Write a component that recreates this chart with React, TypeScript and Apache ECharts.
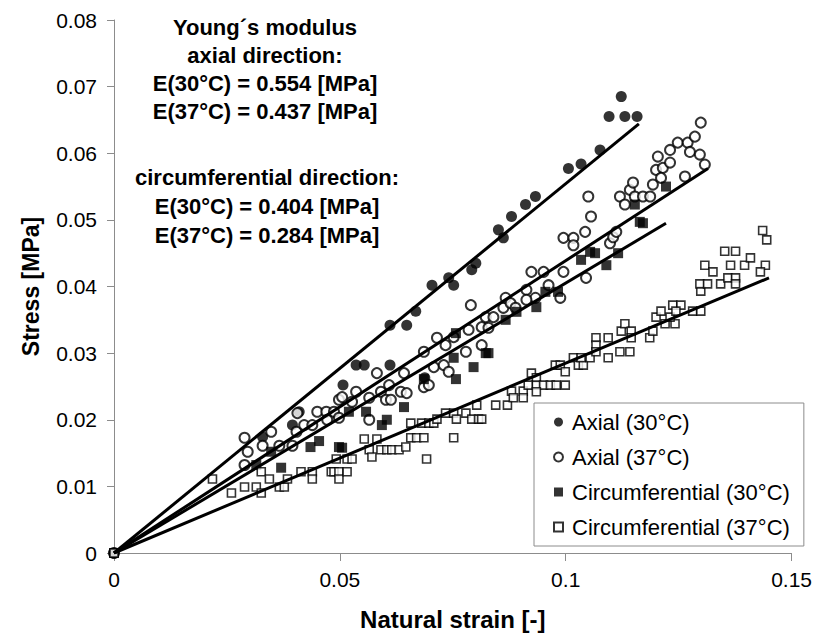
import React, { useEffect, useRef } from "react";
import * as echarts from "echarts";

const FONT = '"Liberation Sans", Arial, sans-serif';

const seriesNames = [
  "Axial (30°C)",
  "Axial (37°C)",
  "Circumferential (30°C)",
  "Circumferential (37°C)",
];

const annotationTop = [
  "Young´s modulus",
  "axial direction:",
  "E(30°C) = 0.554 [MPa]",
  "E(37°C) = 0.437 [MPa]",
];
const annotationBottom = [
  "circumferential direction:",
  "E(30°C) = 0.404 [MPa]",
  "E(37°C) = 0.284 [MPa]",
];

const axial30 = [
  [0, 0], [0.0329, 0.0174], [0.0395, 0.0192], [0.041, 0.0212], [0.0507, 0.0252],
  [0.0536, 0.0282], [0.0554, 0.0282], [0.0611, 0.0282], [0.0611, 0.0342], [0.0648, 0.0342],
  [0.0668, 0.0363], [0.0688, 0.0263], [0.0704, 0.0402], [0.0741, 0.0413], [0.0752, 0.0402],
  [0.0792, 0.0425], [0.0801, 0.0435], [0.0851, 0.0485], [0.0862, 0.0473], [0.088, 0.0505],
  [0.0911, 0.0523], [0.0933, 0.0535], [0.1006, 0.0577], [0.1034, 0.0584], [0.1076, 0.0605],
  [0.1096, 0.0655], [0.1123, 0.0685], [0.1131, 0.0655], [0.1158, 0.0655],
];

const axial37 = [
  [0, 0], [0.0289, 0.0173], [0.0296, 0.0152], [0.0289, 0.0132], [0.0329, 0.0161],
  [0.0348, 0.0182], [0.0366, 0.0161], [0.0395, 0.0161], [0.0406, 0.021], [0.0404, 0.0182],
  [0.0421, 0.0192], [0.0439, 0.0192], [0.045, 0.0212], [0.047, 0.0212], [0.0472, 0.02],
  [0.0487, 0.0212], [0.0498, 0.023], [0.0498, 0.0203], [0.0505, 0.0234], [0.0536, 0.0242],
  [0.0527, 0.0227], [0.0565, 0.02], [0.0565, 0.0233], [0.0582, 0.027], [0.0591, 0.0242],
  [0.0602, 0.023], [0.0613, 0.023], [0.0609, 0.0252], [0.0635, 0.0242], [0.0648, 0.024],
  [0.0642, 0.027], [0.0686, 0.0302], [0.0686, 0.0249], [0.0697, 0.0252], [0.0708, 0.0279],
  [0.0715, 0.0323], [0.073, 0.0282], [0.0741, 0.0272], [0.0734, 0.0312], [0.0752, 0.0324],
  [0.0779, 0.0302], [0.0785, 0.0335], [0.079, 0.0372], [0.0814, 0.0312], [0.0814, 0.0339],
  [0.0823, 0.0354], [0.0829, 0.0338], [0.084, 0.0354], [0.0862, 0.0368], [0.0867, 0.0383],
  [0.0878, 0.0375], [0.0889, 0.0368], [0.0913, 0.0395], [0.0933, 0.0383], [0.0913, 0.038],
  [0.0924, 0.0422], [0.0951, 0.0422], [0.0962, 0.0402], [0.0988, 0.0383], [0.0995, 0.0422],
  [0.0995, 0.0473], [0.1017, 0.0473], [0.1017, 0.0462], [0.1043, 0.0482], [0.1045, 0.0413],
  [0.1056, 0.0505], [0.105, 0.0535], [0.1098, 0.0465], [0.1105, 0.0474], [0.1112, 0.0482],
  [0.112, 0.0535], [0.1131, 0.0523], [0.1142, 0.0545], [0.1149, 0.0556], [0.1153, 0.0535],
  [0.1171, 0.0535], [0.1187, 0.0535], [0.1193, 0.0553], [0.1204, 0.0595], [0.12, 0.0575],
  [0.1215, 0.0578], [0.1211, 0.0563], [0.1231, 0.0586], [0.1231, 0.0605], [0.1248, 0.0616],
  [0.1264, 0.0565], [0.127, 0.0616], [0.1275, 0.0602], [0.1286, 0.0625], [0.1297, 0.0598],
  [0.1308, 0.0583], [0.1299, 0.0646],
];

const circ30 = [
  [0, 0], [0.0315, 0.0132], [0.0348, 0.0152], [0.037, 0.0128], [0.0435, 0.0159],
  [0.0454, 0.0168], [0.0498, 0.0159], [0.0505, 0.0158], [0.052, 0.0212], [0.0558, 0.0212],
  [0.0593, 0.0192], [0.0604, 0.02], [0.0642, 0.0219], [0.0686, 0.0261], [0.0752, 0.0293],
  [0.0757, 0.0261], [0.0757, 0.033], [0.0796, 0.0279], [0.0823, 0.03], [0.0829, 0.03],
  [0.0867, 0.035], [0.0891, 0.0362], [0.0935, 0.0369], [0.0955, 0.0392], [0.0983, 0.0392],
  [0.1034, 0.044], [0.1054, 0.0452], [0.1065, 0.045], [0.109, 0.0432], [0.1116, 0.045],
  [0.1153, 0.0523], [0.1164, 0.0497], [0.1171, 0.0495], [0.1222, 0.055],
];

const circ37 = [
  [0, 0], [0.0218, 0.0111], [0.026, 0.009], [0.0289, 0.0099], [0.0315, 0.0099],
  [0.0326, 0.009], [0.0326, 0.0122], [0.0344, 0.0111], [0.0366, 0.0099], [0.0377, 0.0099],
  [0.0384, 0.0111], [0.0414, 0.0122], [0.0439, 0.0122], [0.0439, 0.0111], [0.0481, 0.0122],
  [0.0487, 0.0122], [0.0498, 0.0122], [0.0498, 0.0111], [0.0492, 0.0141], [0.0516, 0.0122],
  [0.0516, 0.0141], [0.0527, 0.0141], [0.0554, 0.0171], [0.0582, 0.0171], [0.0565, 0.0155],
  [0.0571, 0.0144], [0.0591, 0.0155], [0.0604, 0.0155], [0.0615, 0.0155], [0.0631, 0.0155],
  [0.0646, 0.0159], [0.0657, 0.0173], [0.067, 0.0173], [0.0686, 0.0173], [0.0657, 0.0195],
  [0.0681, 0.0195], [0.0692, 0.0141], [0.0697, 0.0195], [0.0708, 0.0195], [0.0715, 0.0201],
  [0.0734, 0.021], [0.0752, 0.021], [0.0779, 0.021], [0.0752, 0.0173], [0.0758, 0.0201],
  [0.0792, 0.0201], [0.0807, 0.0201], [0.0814, 0.0201], [0.0803, 0.0222], [0.0845, 0.0222],
  [0.0871, 0.0222], [0.088, 0.0243], [0.0906, 0.0243], [0.0884, 0.0233], [0.0906, 0.0233],
  [0.0924, 0.027], [0.0935, 0.0263], [0.0935, 0.0252], [0.0917, 0.0252], [0.0951, 0.0252],
  [0.0966, 0.0252], [0.0979, 0.0252], [0.0999, 0.0252], [0.0935, 0.0242], [0.0977, 0.0282],
  [0.0988, 0.0282], [0.0999, 0.0272], [0.1017, 0.0293], [0.1028, 0.0282], [0.1039, 0.0282],
  [0.1034, 0.0293], [0.1054, 0.0293], [0.1067, 0.0323], [0.1094, 0.0323], [0.1067, 0.0312],
  [0.1067, 0.0302], [0.1094, 0.0293], [0.112, 0.0302], [0.1142, 0.0302], [0.1123, 0.0333],
  [0.1131, 0.0344], [0.1145, 0.0333], [0.1145, 0.0323], [0.1186, 0.0323], [0.1193, 0.0333],
  [0.12, 0.0354], [0.1211, 0.0363], [0.122, 0.0344], [0.1242, 0.0344], [0.1231, 0.0354],
  [0.1237, 0.0372], [0.1255, 0.0372], [0.1244, 0.0363], [0.1281, 0.0363], [0.1299, 0.0363],
  [0.1299, 0.0393], [0.1297, 0.0404], [0.1314, 0.0404], [0.1343, 0.0404], [0.1359, 0.0413],
  [0.1376, 0.0413], [0.1376, 0.0404], [0.1308, 0.0432], [0.1326, 0.0422], [0.1352, 0.0453],
  [0.1376, 0.0453], [0.1365, 0.0432], [0.1396, 0.0432], [0.1409, 0.0443], [0.1442, 0.0432],
  [0.1431, 0.0422], [0.1436, 0.0484], [0.1445, 0.047],
];

// fitted lines: start and end points
const fitAxial30 = [[0, 0], [0.1162, 0.0644]];
const fitAxial37 = [[0, 0], [0.1315, 0.0577]];
const fitCirc30 = [[0, 0], [0.1222, 0.0495]];
const fitCirc37 = [[0, 0], [0.145, 0.0413]];

export default function App() {
  const ref = useRef<HTMLDivElement>(null);

  useEffect(() => {
    if (!ref.current) return;
    const chart = echarts.init(ref.current, null, { renderer: "svg" });
    const axisGray = "#8c8c8c";
    const fitLine = (data: number[][]) => ({
      type: "line",
      data,
      symbol: "none",
      silent: true,
      z: 5,
      lineStyle: { color: "#000", width: 3 },
      legendHoverLink: false,
    });
    chart.setOption({
      animation: false,
      backgroundColor: "#fff",
      textStyle: { fontFamily: FONT },
      grid: { left: 114, right: 21, top: 20, bottom: 86, containLabel: false },
      xAxis: {
        type: "value",
        min: 0,
        max: 0.15,
        interval: 0.05,
        name: "Natural strain [-]",
        nameLocation: "middle",
        nameGap: 54,
        nameTextStyle: { fontFamily: FONT, fontSize: 24, fontWeight: "bold", color: "#000" },
        axisLine: { show: true, lineStyle: { color: axisGray, width: 1 } },
        axisTick: { show: true, length: 8, lineStyle: { color: axisGray } },
        axisLabel: { fontFamily: FONT, fontSize: 21, color: "#000", margin: 16 },
        splitLine: { show: false },
      },
      yAxis: {
        type: "value",
        min: 0,
        max: 0.08,
        interval: 0.01,
        name: "Stress [MPa]",
        nameLocation: "middle",
        nameGap: 72,
        nameTextStyle: { fontFamily: FONT, fontSize: 23, fontWeight: "bold", color: "#000" },
        axisLine: { show: true, lineStyle: { color: axisGray, width: 1 } },
        axisTick: { show: true, length: 7, lineStyle: { color: axisGray } },
        axisLabel: { fontFamily: FONT, fontSize: 21, color: "#000", margin: 17 },
        splitLine: { show: false },
      },
      legend: {
        data: seriesNames,
        orient: "vertical",
        left: 534,
        top: 403,
        itemWidth: 9,
        itemHeight: 9,
        itemGap: 13,
        padding: [8, 14, 8, 19],
        borderColor: "#8c8c8c",
        borderWidth: 1,
        backgroundColor: "#fff",
        textStyle: { fontFamily: FONT, fontSize: 22, color: "#000", padding: [0, 0, 0, 4] },
        selectedMode: false,
        z: 10,
      },
      graphic: [
        {
          type: "text",
          left: 265 - 130,
          top: 13,
          style: {
            text: annotationTop.join("\n"),
            x: 0,
            y: 0,
            width: 260,
            textAlign: "center",
            fontFamily: FONT,
            fontSize: 22,
            fontWeight: "bold",
            lineHeight: 28,
            fill: "#000",
          },
        },
        {
          type: "text",
          left: 265 - 130,
          top: 163,
          style: {
            text: annotationBottom.join("\n"),
            width: 260,
            textAlign: "center",
            fontFamily: FONT,
            fontSize: 22,
            fontWeight: "bold",
            lineHeight: 29,
            fill: "#000",
          },
        },
      ],
      series: [
        {
          name: seriesNames[0],
          type: "scatter",
          data: axial30,
          symbol: "circle",
          symbolSize: 11,
          itemStyle: { color: "#000" },
          z: 2,
        },
        {
          name: seriesNames[1],
          type: "scatter",
          data: axial37,
          symbol: "circle",
          symbolSize: 10,
          itemStyle: { color: "#fff", borderColor: "#000", borderWidth: 2 },
          z: 2,
        },
        {
          name: seriesNames[2],
          type: "scatter",
          data: circ30,
          symbol: "rect",
          symbolSize: 10,
          itemStyle: { color: "#000" },
          z: 2,
        },
        {
          name: seriesNames[3],
          type: "scatter",
          data: circ37,
          symbol: "rect",
          symbolSize: 8,
          itemStyle: { color: "#fff", borderColor: "#000", borderWidth: 1.6 },
          z: 2,
        },
        fitLine(fitAxial30),
        fitLine(fitAxial37),
        fitLine(fitCirc30),
        fitLine(fitCirc37),
      ],
    });
    return () => chart.dispose();
  }, []);

  return (
    <div
      ref={ref}
      style={{ position: "fixed", left: 0, top: 0, width: 815, height: 639 }}
    />
  );
}
